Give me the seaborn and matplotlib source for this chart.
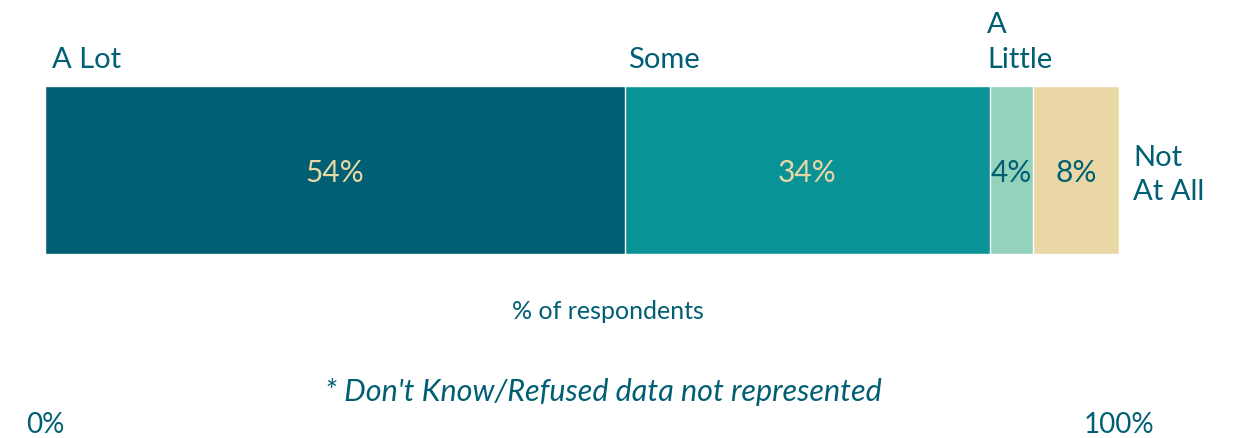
import matplotlib
matplotlib.use("Agg")
import matplotlib.pyplot as plt
import matplotlib.transforms as mtransforms
import seaborn as sns
import pandas as pd
import numpy as np

categories = ["A Lot", "Some", "A Little", "Not At All"]
display_labels = ["A Lot", "Some", "A\nLittle", "Not\nAt All"]
values = [54, 34, 4, 8]
colors = ["#005F73", "#0A9396", "#94D2BD", "#E9D8A6"]
value_text_colors = ["#E9D8A6", "#E9D8A6", "#005F73", "#005F73"]
tick_values = [0, 100]
tick_labels = ["0%", "100%"]
axis_title = "% of respondents"
footnote = "* Don't Know/Refused data not represented"

TEXT = "#005F73"

sns.set_theme(style="white")
plt.rcParams["font.family"] = ["Lato", "DejaVu Sans"]

W, H = 1235, 438
fig = plt.figure(figsize=(W / 100, H / 100), dpi=100)
ax = fig.add_axes([45 / W, (H - 254) / H, (1119 - 45) / W, (254 - 86) / H])

cum = np.cumsum(values)
starts = cum - np.array(values)
df = pd.DataFrame({"cat": categories, "cum": cum, "row": [""] * len(categories)})

# draw stacked segments: from longest cumulative to shortest
for i in reversed(range(len(categories))):
    sns.barplot(data=df.iloc[[i]], x="cum", y="row", color=colors[i],
                width=1.0, edgecolor="white", linewidth=1.0, ax=ax,
                saturation=1)

ax.set_xlim(0, 100)
ax.set_ylim(0.5, -0.5)
for s in ax.spines.values():
    s.set_visible(False)
ax.set_yticks([])
ax.set_ylabel("")
ax.set_xlabel("")
ax.set_xticks(tick_values)
ax.set_xticklabels(tick_labels, fontsize=20, color=TEXT)
ax.tick_params(axis="x", length=0, pad=114)

trans = mtransforms.blended_transform_factory(ax.transData, ax.transAxes)

# value labels
for i in range(len(categories)):
    ax.text(starts[i] + values[i] / 2, 0.48, f"{values[i]}%", transform=trans,
            ha="center", va="center", fontsize=21.5, color=value_text_colors[i])

# category labels
ax.text(starts[0] + 0.65, 1.155, display_labels[0], transform=trans,
        ha="left", va="center", fontsize=21, color=TEXT)
ax.text(starts[1] + 0.3, 1.155, display_labels[1], transform=trans,
        ha="left", va="center", fontsize=21, color=TEXT)
ax.text(starts[2] - 0.3, 1.26, display_labels[2], transform=trans,
        ha="left", va="center", fontsize=21, color=TEXT, linespacing=1.45)
ax.text(cum[3] + 1.3, 0.47, display_labels[3], transform=trans,
        ha="left", va="center", fontsize=21, color=TEXT, linespacing=1.4)

ax.text(0.524, -0.34, axis_title, transform=ax.transAxes,
        ha="center", va="center", fontsize=18, color=TEXT)
ax.text(0.52, -0.82, footnote, transform=ax.transAxes,
        ha="center", va="center", fontsize=22, color=TEXT, style="italic")

fig.savefig("out.png", dpi=100)
